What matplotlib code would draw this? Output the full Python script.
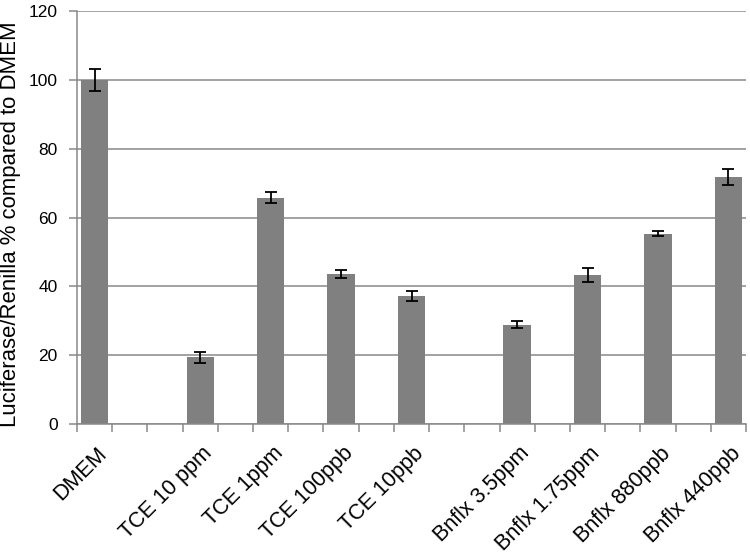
import numpy as np
import matplotlib
matplotlib.use('Agg')
import matplotlib.pyplot as plt
import matplotlib.transforms as mtransforms

plt.rcParams['font.family'] = ['Liberation Sans', 'DejaVu Sans']

# blank entries are the empty spacer columns of the original sheet
labels = ['DMEM', '', '', 'TCE 10 ppm', '', 'TCE 1ppm', '', 'TCE 100ppb', '', 'TCE 10ppb',
          '', '', 'Bnflx 3.5ppm', '', 'Bnflx 1.75ppm', '', 'Bnflx 880ppb', '', 'Bnflx 440ppb']
means = [100.0, np.nan, np.nan, 19.4, np.nan, 65.8, np.nan, 43.6, np.nan, 37.2,
         np.nan, np.nan, 28.8, np.nan, 43.3, np.nan, 55.3, np.nan, 71.9]
errs = [3.3, np.nan, np.nan, 1.6, np.nan, 1.7, np.nan, 1.2, np.nan, 1.4,
        np.nan, np.nan, 1.0, np.nan, 2.1, np.nan, 0.8, np.nan, 2.3]

x = np.arange(len(labels))
grid_col = '#898989'

fig = plt.figure(figsize=(7.5, 5.57), dpi=100)
ax = fig.add_axes([0.1027, 0.2388, 0.892, 0.7412])

ax.bar(x, means, width=0.78, color='#808080', zorder=2)
ax.errorbar(x, means, yerr=errs, fmt='none', ecolor='black', elinewidth=1.3,
            capsize=4.5, capthick=1.3, zorder=3)

ax.set_xlim(-0.5, len(labels) - 0.5)
ax.set_ylim(0, 120)
ax.set_yticks(np.arange(0, 121, 20))
ax.yaxis.grid(True, color=grid_col, linewidth=1.1, zorder=0)
ax.set_axisbelow(True)

keep = [i for i, s in enumerate(labels) if s]
ax.set_xticks(x[keep])
ax.set_xticklabels([labels[i] for i in keep], rotation=45, ha='right', va='center',
                   rotation_mode='anchor', fontsize=15.5)
ax.tick_params(axis='x', length=0, pad=19)
# nudge the slanted labels right, like the original
shift = mtransforms.ScaledTranslation(0.09, 0, fig.dpi_scale_trans)
for lab in ax.get_xticklabels():
    lab.set_transform(lab.get_transform() + shift)
ax.set_xticks(np.arange(-0.5, len(labels)), minor=True)
ax.tick_params(axis='x', which='minor', length=6, color=grid_col, width=1.1)
ax.tick_params(axis='y', length=6, color=grid_col, width=1.1, labelsize=12.5, pad=8)

for side in ['top', 'right']:
    ax.spines[side].set_visible(False)
for side in ['left', 'bottom']:
    ax.spines[side].set_color(grid_col)
    ax.spines[side].set_linewidth(1.1)

ax.set_ylabel('Luciferase/Renilla % compared to DMEM', fontsize=15.9)
ax.yaxis.set_label_coords(-0.083, 0.485)

fig.savefig('out.png', dpi=100)
